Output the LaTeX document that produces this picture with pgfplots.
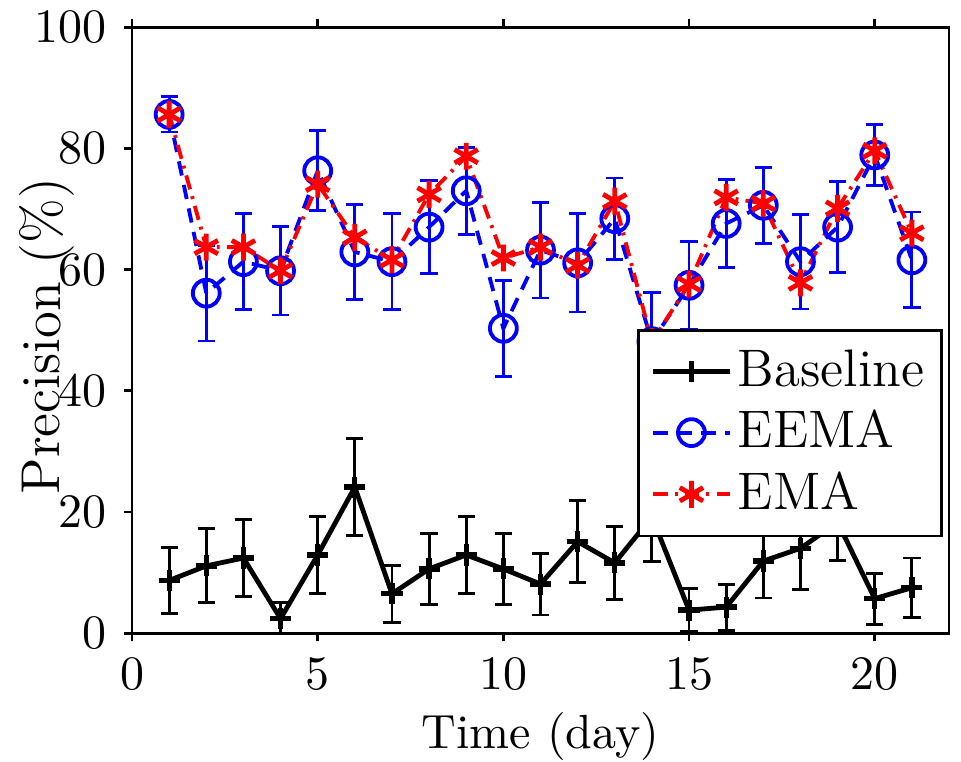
\documentclass[border=0pt]{standalone}
\usepackage{pgfplots}
\usepackage{pgfplotstable}
\pgfplotsset{compat=1.18}
\pgfplotstableread{
x y err
1 8.7 5.4
2 11.1 6.1
3 12.4 6.3
4 2.4 2.6
5 12.9 6.3
6 24.1 8.0
7 6.5 4.7
8 10.6 5.8
9 12.9 6.3
10 10.6 5.8
11 8.1 5.1
12 15.1 6.8
13 11.6 6.0
14 19.2 7.4
15 3.8 3.5
16 4.3 3.8
17 11.9 6.1
18 14.0 6.8
19 18.3 6.3
20 5.7 4.2
21 7.5 4.9
}\baseline
\pgfplotstableread{
x y err
1 85.6 2.9
2 56.1 7.9
3 61.3 7.9
4 59.8 7.3
5 76.3 6.6
6 62.9 7.9
7 61.3 7.9
8 67.0 7.7
9 73.0 7.2
10 50.3 7.9
11 63.2 7.9
12 61.1 8.1
13 68.4 6.7
14 48.1 8.1
15 57.4 7.3
16 67.6 7.3
17 70.6 6.3
18 61.3 7.8
19 67.0 7.5
20 78.9 5.0
21 61.6 7.9
}\eema
\pgfplotstableread{
x y
1 85.6
2 63.7
3 63.7
4 59.8
5 74.1
6 65.3
7 61.6
8 72.4
9 78.7
10 61.9
11 63.7
12 60.7
13 71.3
14 48.1
15 57.6
16 71.9
17 70.9
18 57.8
19 70.1
20 79.6
21 66.0
}\ema
\begin{document}
\begin{tikzpicture}
\useasboundingbox (-27.5pt,-26.7pt) rectangle (172.7pt,131.9pt);
\begin{axis}[
  at={(0,0)}, anchor=south west,
  scale only axis, width=170.2pt, height=126.25pt,
  xmin=0, xmax=22, ymin=0, ymax=100,
  xtick={0,5,10,15,20}, ytick={0,20,40,60,80,100},
  tick align=outside, xtick pos=both, ytick pos=left,
  major tick length=1.7pt,
  axis line style={line width=0.6pt},
  every tick/.style={line width=0.6pt, black},
  xlabel={Time (day)},
  every axis x label/.style={at={(axis description cs:0.5,-0.19)}, anchor=base},
  legend cell align=left,
  legend image code/.code={\draw[mark repeat=2,mark phase=2,#1] plot coordinates {(0cm,0cm) (0.28cm,0cm) (0.56cm,0cm)};},
  legend style={at={(0.993,0.158)}, anchor=south east, draw=black, line width=0.6pt,
    font=\fontsize{11}{13.5}\selectfont, row sep=-0.5pt, nodes={inner xsep=1.2pt}, inner xsep=2.5pt},
]
\addplot[black, line width=1pt, mark=+, mark size=2.2pt, mark options={solid, line width=1.1pt},
  error bars/.cd, y dir=both, y explicit,
  error bar style={line width=0.6pt, black},
  error mark options={rotate=90, mark size=1.8pt, line width=0.6pt, black}]
  table[x=x, y=y, y error=err] {\baseline};
\addlegendentry{Baseline}
\addplot[blue, line width=0.8pt, dash pattern=on 3pt off 2pt, mark=o, mark size=2.8pt, mark options={solid, line width=0.8pt},
  error bars/.cd, y dir=both, y explicit,
  error bar style={line width=0.6pt, blue, solid},
  error mark options={rotate=90, mark size=1.8pt, line width=0.6pt, blue, solid}]
  table[x=x, y=y, y error=err] {\eema};
\addlegendentry{EEMA}
\addplot[red, line width=0.8pt, dash pattern=on 3pt off 1.5pt on 0.6pt off 1.5pt, mark=asterisk, mark size=2.8pt, mark options={solid, line width=1pt}]
  table[x=x, y=y] {\ema};
\addlegendentry{EMA}
\end{axis}
\node[rotate=89.99, anchor=base, font=\fontsize{11.4}{13}\selectfont, inner sep=0pt] at (-15pt,61.9pt) {Precision (\%)};
\end{tikzpicture}
\end{document}
